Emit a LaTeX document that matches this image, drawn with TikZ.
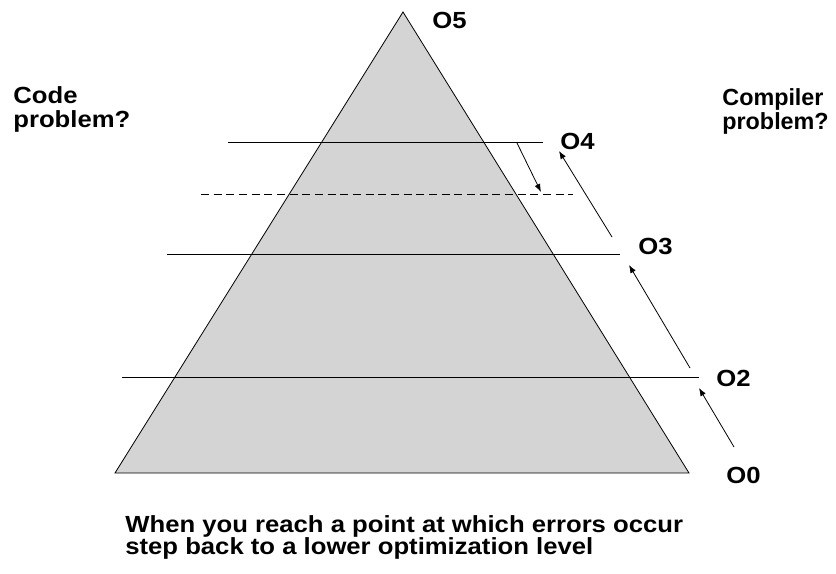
\documentclass[tikz,border=0pt]{standalone}
\usepackage{fontspec}
\setmainfont{Liberation Sans}
\newfontfamily\widesans[FakeStretch=1.1]{Liberation Sans}
\usetikzlibrary{arrows.meta}
\tikzset{
	lbl/.style={font=\widesans\fontsize{17.5}{18}\selectfont\bfseries,inner sep=0pt,anchor=base west,align=left},
	stepup/.style={-{Latex[length=6pt,width=4.5pt]},line width=0.6pt},
}
\begin{document}
\begin{tikzpicture}[x=0.75pt,y=-0.75pt,line width=0.6pt]
	\useasboundingbox (0,0) rectangle (836,574);
	% pyramid
	\coordinate (top) at (403,12);
	\coordinate (lft) at (115,473);
	\coordinate (rgt) at (689,473);
	\draw[fill=black!17] (top) -- (lft) -- (rgt) -- cycle;
	% levels
	\draw (228,142) -- (543,142);
	\draw[dash pattern=on 6pt off 3.5pt] (201,194) -- (573,194);
	\draw (167,254) -- (620,254);
	\draw (122,377) -- (699,377);
	% labels
	\node[lbl] (o5) at (432,29) {O5};
	\node[lbl] (o4) at (560,150) {O4};
	\node[lbl] (o3) at (638,255) {O3};
	\node[lbl] (o2) at (716,386) {O2};
	\node[lbl] (o0) at (726,483) {O0};
	\node[lbl] (code) at (13,128) {Code\\problem?};
	\node[lbl,font=\fontsize{17.5}{18}\selectfont\bfseries] (comp) at (722,130) {Compiler\\problem?};
	\node[lbl,font=\widesans\fontsize{17.5}{16.5}\selectfont\bfseries] (note) at (125,554) {When you reach a point at which errors occur\\step back to a lower optimization level};
	% steps
	\coordinate (s0) at (734,447);
	\coordinate (e0) at (699,388);
	\coordinate (s1) at (690,368);
	\coordinate (e1) at (629,265);
	\coordinate (s2) at (612,237);
	\coordinate (e2) at (559,151);
	\coordinate (s3) at (517,143);
	\coordinate (e3) at (541,192);
	\draw[stepup] (s0) -- (e0);
	\draw[stepup] (s1) -- (e1);
	\draw[stepup] (s2) -- (e2);
	\draw[stepup] (s3) -- (e3);
\end{tikzpicture}
\end{document}
